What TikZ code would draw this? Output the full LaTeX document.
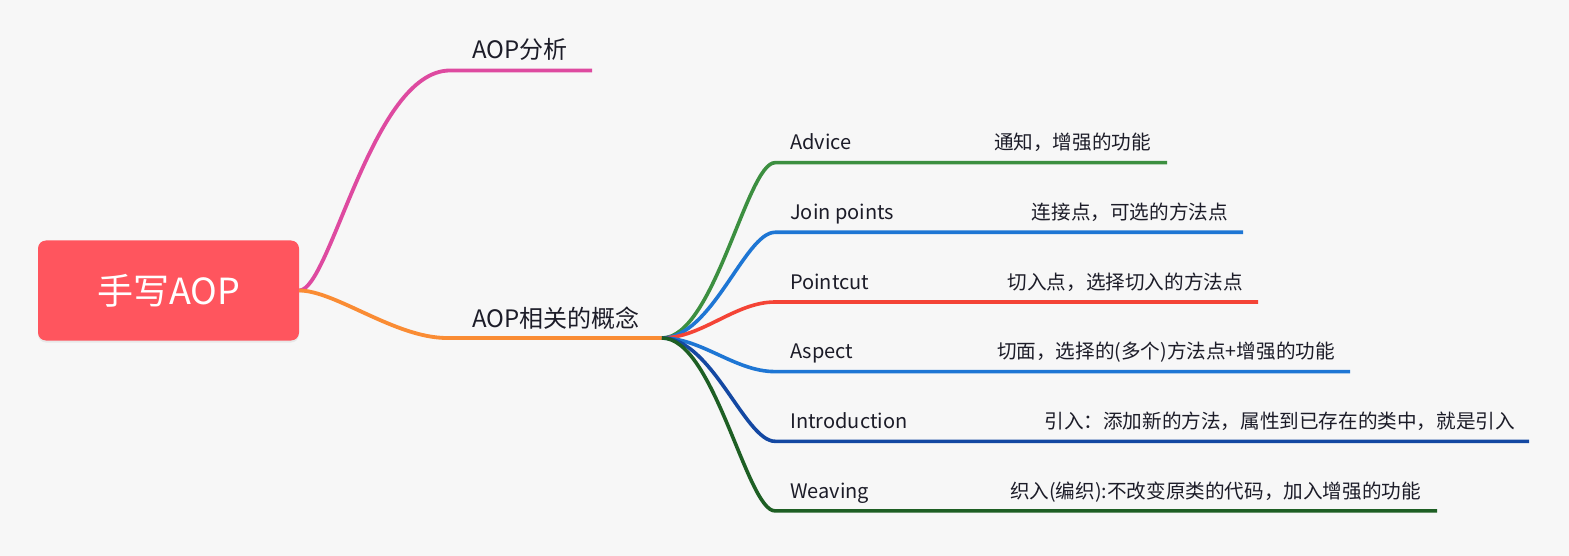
\documentclass[tikz,border=0pt]{standalone}
\usepackage{fontspec}
\setmainfont{Noto Sans CJK SC}
\usetikzlibrary{shadows}

\definecolor{bgc}{HTML}{F7F7F7}
\definecolor{ink}{HTML}{1C1C28}
\definecolor{rootred}{RGB}{255,85,94}
\definecolor{pinkc}{RGB}{222,74,160}
\definecolor{orangec}{RGB}{250,140,52}
\definecolor{greenc}{RGB}{60,143,64}
\definecolor{bluec}{RGB}{30,118,212}
\definecolor{redc}{RGB}{244,68,54}
\definecolor{navyc}{RGB}{20,72,162}
\definecolor{darkgreenc}{RGB}{30,95,36}

\begin{document}
\begin{tikzpicture}[x=1pt, y=-1pt, rootbox/.style={fill=rootred, rounded corners=8pt, minimum width=261pt, minimum height=100pt, text=white, font=\fontsize{36}{40}\selectfont, drop shadow={opacity=0.12, shadow xshift=0pt, shadow yshift=-2pt}}, mainlabel/.style={anchor=base west, inner sep=0pt, text=ink, font=\fontsize{24}{28}\selectfont}, topic/.style={anchor=base west, inner sep=0pt, text=ink, font=\fontsize{20}{24}\selectfont}, note/.style={topic, anchor=base east, font=\fontsize{19.6}{24}\selectfont}, branch/.style={line width=3.8pt}, twig/.style={line width=3.6pt}]
\useasboundingbox (0,0) rectangle (1569,556);
\fill[bgc] (0,0) rectangle (1569,556);
\node[rootbox] (root) at (168.5,290.5) {手写AOP};
% first level
\node[mainlabel] (analysis) at (472,59) {AOP分析};
\node[mainlabel] (concept) at (472,327) {AOP相关的概念};
\coordinate (analysis-in) at (450,70.5);
\coordinate (analysis-out) at (592,70.5);
\coordinate (concept-in) at (447,338);
\coordinate (hub) at (662,338);
% second level
\node[topic] (advice) at (790,150) {Advice};
\node[note] (advice-note) at (1151,150) {通知，增强的功能};
\coordinate (advice-in) at (775,162.7);
\coordinate (advice-out) at (1167,162.7);
\node[topic] (join) at (790,219.6) {Join points};
\node[note] (join-note) at (1228,219.6) {连接点，可选的方法点};
\coordinate (join-in) at (775,232.3);
\coordinate (join-out) at (1243,232.3);
\node[topic] (pointcut) at (790,289.3) {Pointcut};
\node[note] (pointcut-note) at (1243,289.3) {切入点，选择切入的方法点};
\coordinate (pointcut-in) at (775,302);
\coordinate (pointcut-out) at (1258,302);
\node[topic] (aspect) at (790,358.9) {Aspect};
\node[note] (aspect-note) at (1335,358.9) {切面，选择的(多个)方法点+增强的功能};
\coordinate (aspect-in) at (775,371.6);
\coordinate (aspect-out) at (1350,371.6);
\node[topic] (intro) at (790,428.6) {Introduction};
\node[note] (intro-note) at (1515,428.6) {引入：添加新的方法，属性到已存在的类中，就是引入};
\coordinate (intro-in) at (775,441.3);
\coordinate (intro-out) at (1529,441.3);
\node[topic] (weaving) at (790,498.2) {Weaving};
\node[note] (weaving-note) at (1421,498.2) {织入(编织):不改变原类的代码，加入增强的功能};
\coordinate (weaving-in) at (775,510.9);
\coordinate (weaving-out) at (1437,510.9);
% connectors
\draw[branch, pinkc] (root.east) .. controls +(31,0) and +(-78,0) .. (analysis-in) -- (analysis-out);
\draw[branch, orangec] (root.east) .. controls +(36,0) and +(-52,0) .. (concept-in) -- (hub);
\draw[twig, greenc] (hub) .. controls +(52,0) and +(-28,0) .. (advice-in) -- (advice-out);
\draw[twig, bluec] (hub) .. controls +(50,0) and +(-30,0) .. (join-in) -- (join-out);
\draw[twig, redc] (hub) .. controls +(40,0) and +(-40,0) .. (pointcut-in) -- (pointcut-out);
\draw[twig, bluec] (hub) .. controls +(40,0) and +(-40,0) .. (aspect-in) -- (aspect-out);
\draw[twig, navyc] (hub) .. controls +(50,0) and +(-30,0) .. (intro-in) -- (intro-out);
\draw[twig, darkgreenc] (hub) .. controls +(52,0) and +(-28,0) .. (weaving-in) -- (weaving-out);
\end{tikzpicture}
\end{document}
